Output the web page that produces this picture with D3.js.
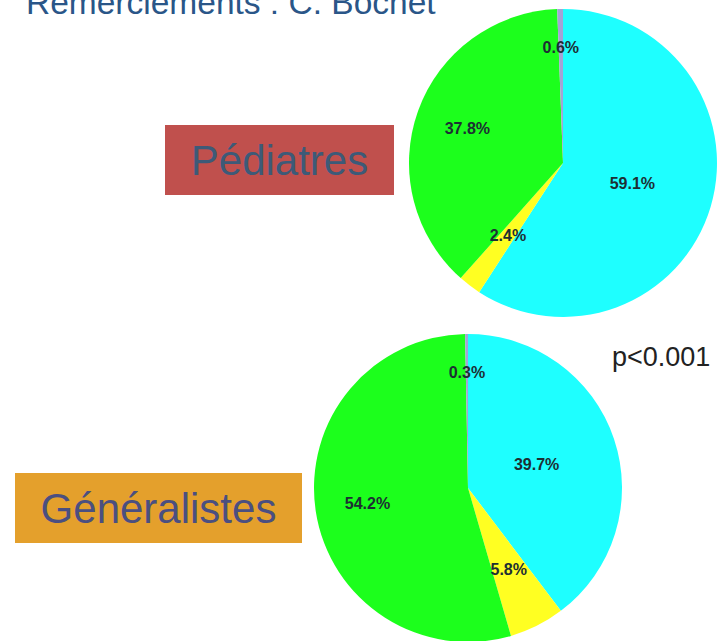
<!DOCTYPE html>
<html>
<head>
<meta charset="utf-8">
<script src="https://cdn.jsdelivr.net/npm/d3@7"></script>
<style>
  html, body { margin: 0; padding: 0; background: #ffffff; }
  svg { display: block; }
</style>
</head>
<body>
<svg id="chart" width="720" height="641"></svg>
<script>
// ---- data ----
const categories = ["cyan", "jaune", "vert", "violet"];
const pediatresValues = [59.1, 2.4, 37.8, 0.6];
const generalistesValues = [39.7, 5.8, 54.2, 0.3];
const groupNames = ["Pédiatres", "Généralistes"];
const pValueLabel = "p<0.001";
const creditText = "Remerciements : C. Bochet";

// ---- styles / layout ----
const colorByCat = { cyan: "#1effff", jaune: "#ffff22", vert: "#1cff1c", violet: "#a3a3d6" };
const labelRadiusFrac = { cyan: 0.47, jaune: 0.59, vert: 0.66, violet: 0.75 };
const R = 154;

const svg = d3.select("#chart");

// credit text (cut at top, as in the reference)
svg.append("text")
  .attr("x", 26).attr("y", 14)
  .attr("font-family", "Liberation Sans, Arial, sans-serif")
  .attr("font-size", 33.5)
  .attr("fill", "#2a5688")
  .text(creditText);

const pie = d3.pie().sort(null).value(d => d.v);
const arc = d3.arc().innerRadius(0).outerRadius(R);

function drawPie(values, cx, cy) {
  const data = categories.map((c, i) => ({ c, v: values[i] }));
  const g = svg.append("g").attr("transform", `translate(${cx},${cy})`);
  const arcs = pie(data);
  g.selectAll("path").data(arcs).enter().append("path")
    .attr("d", arc)
    .attr("fill", d => colorByCat[d.data.c]);
  g.selectAll("text").data(arcs).enter().append("text")
    .attr("transform", d => {
      const a = (d.startAngle + d.endAngle) / 2;
      const r = R * labelRadiusFrac[d.data.c];
      return `translate(${Math.sin(a) * r},${-Math.cos(a) * r})`;
    })
    .attr("text-anchor", "middle")
    .attr("dominant-baseline", "central")
    .attr("font-family", "Liberation Sans, Arial, sans-serif")
    .attr("font-weight", "bold")
    .attr("font-size", 16)
    .attr("fill", "#1d2f33")
    .text(d => d.data.v.toFixed(1) + "%");
}

drawPie(pediatresValues, 563, 163);
drawPie(generalistesValues, 468, 488);

// group label boxes
function labelBox(x, y, w, h, fill, textColor, txt) {
  svg.append("rect").attr("x", x).attr("y", y).attr("width", w).attr("height", h).attr("fill", fill);
  svg.append("text")
    .attr("x", x + w / 2).attr("y", y + h / 2)
    .attr("text-anchor", "middle")
    .attr("dominant-baseline", "central")
    .attr("font-family", "Liberation Sans, Arial, sans-serif")
    .attr("font-size", 42)
    .attr("fill", textColor)
    .text(txt);
}
labelBox(165, 125, 229, 70, "#c0504d", "#3d5a78", groupNames[0]);
labelBox(15, 473, 287, 70, "#e4a02c", "#4b4f80", groupNames[1]);

// p-value
svg.append("text")
  .attr("x", 612).attr("y", 366)
  .attr("font-family", "Liberation Sans, Arial, sans-serif")
  .attr("font-size", 27)
  .attr("fill", "#222222")
  .text(pValueLabel);
</script>
</body>
</html>
